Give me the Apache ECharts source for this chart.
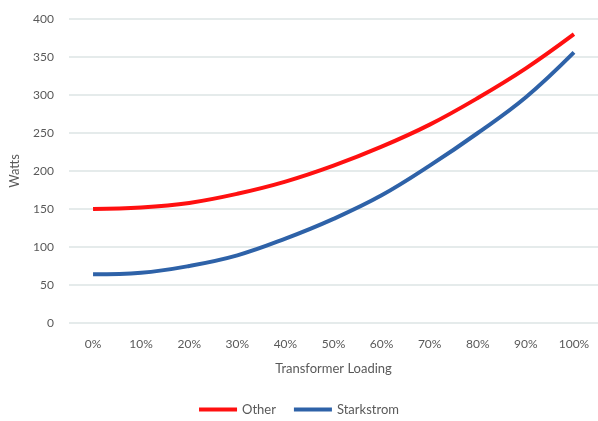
<!DOCTYPE html>
<html><head><meta charset="utf-8">
<script src="https://cdn.jsdelivr.net/npm/echarts@6/dist/echarts.min.js"></script>
<style>html,body{margin:0;padding:0;background:#fff}#c{width:598px;height:421px}</style>
</head><body><div id="c"></div>
<script>
const categories = ['0%','10%','20%','30%','40%','50%','60%','70%','80%','90%','100%'];
const other = [150,152,158,170,186,207,232,261,296,335,380];
const starkstrom = [64,66,75,89,111,137,168,207,250,297,356];
const yTicks = {min:0, max:400, interval:50};

const chart = echarts.init(document.getElementById('c'));
const txt = {color:'#595959', fontFamily:'Lato', fontSize:12};
chart.setOption({
  animation:false,
  grid:{left:66, right:-4, top:19, bottom:98},
  legend:{bottom:0, left:'center', itemWidth:38, itemHeight:4, itemGap:18,
    icon:'rect', textStyle:{...txt, fontSize:13}, data:['Other','Starkstrom']},
  xAxis:{type:'category', data:categories, boundaryGap:true,
    axisLine:{show:false}, axisTick:{show:false},
    axisLabel:{...txt, margin:15},
    name:'Transformer Loading', nameLocation:'middle', nameGap:39,
    nameTextStyle:{...txt, fontSize:13}},
  yAxis:{type:'value', min:yTicks.min, max:yTicks.max, interval:yTicks.interval,
    axisLabel:{...txt, margin:15},
    splitLine:{lineStyle:{color:'#dde5e5', width:1.5}},
    name:'Watts', nameLocation:'middle', nameGap:48, nameRotate:90,
    nameTextStyle:{...txt, fontSize:13}},
  series:[
    {name:'Other', type:'line', data:other, smooth:0.4, showSymbol:false,
      lineStyle:{color:'#ff1010', width:4}, itemStyle:{color:'#ff1010'}},
    {name:'Starkstrom', type:'line', data:starkstrom, smooth:0.4, showSymbol:false,
      lineStyle:{color:'#2e62a8', width:4}, itemStyle:{color:'#2e62a8'}}
  ]
});
</script></body></html>
